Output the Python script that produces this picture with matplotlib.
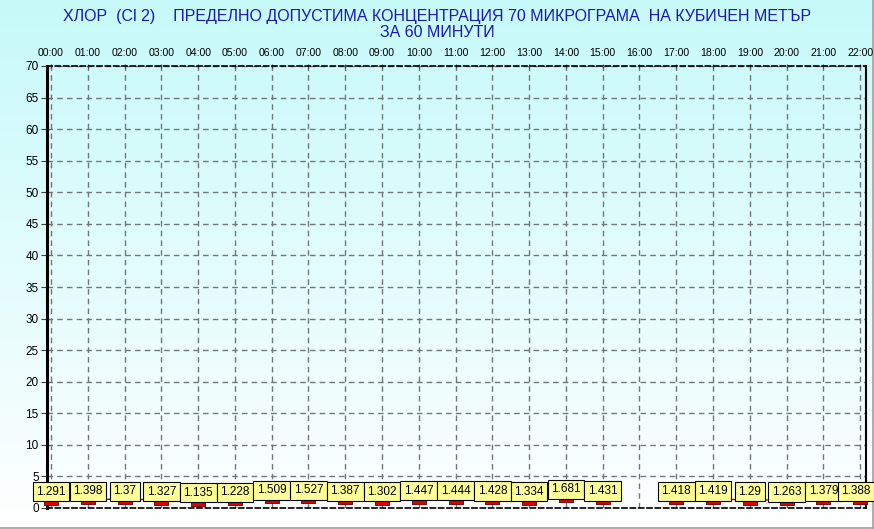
import numpy as np
import matplotlib
matplotlib.use("Agg")
import matplotlib.pyplot as plt
from matplotlib.lines import Line2D

hours = ["00:00", "01:00", "02:00", "03:00", "04:00", "05:00", "06:00", "07:00",
         "08:00", "09:00", "10:00", "11:00", "12:00", "13:00", "14:00", "15:00",
         "16:00", "17:00", "18:00", "19:00", "20:00", "21:00", "22:00"]
values = [1.291, 1.398, 1.37, 1.327, 1.135, 1.228, 1.509, 1.527, 1.387, 1.302,
          1.447, 1.444, 1.428, 1.334, 1.681, 1.431, np.nan, 1.418, 1.419, 1.29,
          1.263, 1.379, 1.388]
y_ticks = list(range(0, 75, 5))
title1 = "ХЛОР  (Cl 2)    ПРЕДЕЛНО ДОПУСТИМА КОНЦЕНТРАЦИЯ 70 МИКРОГРАМА  НА КУБИЧЕН МЕТЪР"
title2 = "ЗА 60 МИНУТИ"

plt.rcParams['font.family'] = ['Liberation Sans', 'DejaVu Sans']

W, H = 874, 529
fig = plt.figure(figsize=(W / 100, H / 100), dpi=100)

# background gradient
bg = fig.add_axes([0, 0, 1, 1], zorder=-10)
grad = np.linspace(0, 1, 256).reshape(-1, 1)
top = np.array([0.78, 0.98, 0.98])
bot = np.array([1.0, 1.0, 1.0])
img = top[None, None, :] * (1 - grad[:, :, None]) + bot[None, None, :] * grad[:, :, None]
bg.imshow(img, aspect='auto', extent=[0, 1, 0, 1], origin='upper')
bg.set_xlim(0, 1); bg.set_ylim(0, 1)
bg.axis('off')

left, right, topp, bottom = 47, 866, 66, 508
ax = fig.add_axes([left / W, 1 - bottom / H, (right - left) / W, (bottom - topp) / H])
ax.set_facecolor('none')

x = np.arange(len(hours))
ax.set_xlim(-0.11, 22.16)
ax.set_ylim(0, 70)
ax.set_xticks(x)
ax.set_xticklabels(hours, fontsize=7.6)
ax.xaxis.tick_top()
ax.set_yticks(y_ticks)
ax.set_yticklabels([str(v) for v in y_ticks], fontsize=8.5)
ax.tick_params(axis='x', length=3, direction='inout', pad=4, color='#404040')
ax.tick_params(axis='y', length=4, direction='out', pad=2, color='#404040')

ax.grid(True, color='#6e7878', linestyle=(0, (4, 3)), linewidth=1)

for s in ['top', 'bottom']:
    ax.spines[s].set_linestyle((0, (3, 2)))
    ax.spines[s].set_linewidth(1.2)
    ax.spines[s].set_color('black')
ax.spines['left'].set_linewidth(2.2)
ax.spines['right'].set_linewidth(1.5)

ax.plot(x, values, color='#cc0000', linewidth=1, zorder=3, clip_on=False)
rect = [(-1, -0.75), (1, -0.75), (1, 0.25), (-1, 0.25), (-1, -0.75)]
ax.plot(x, values, linestyle='none', marker=rect, markersize=10,
        markerfacecolor='#dd0000', markeredgecolor='#600000', markeredgewidth=0.6,
        zorder=4, clip_on=False)

last = len(values) - 1
for i, v in enumerate(values):
    if np.isnan(v):
        continue
    dx = -4 if i == last else 0
    ax.annotate(f"{v:g}", (i, v), xytext=(dx, 8), textcoords='offset pixels',
                ha='center', va='center', fontsize=8.5, zorder=5 + i,
                bbox=dict(boxstyle='square,pad=0.3', facecolor='#ffff99',
                          edgecolor='black', linewidth=0.8))

fig.text(0.5, 1 - 16 / H, title1, ha='center', va='center', fontsize=11.5,
         color='#1a1ab0')
fig.text(0.5, 1 - 32.5 / H, title2, ha='center', va='center', fontsize=11.5,
         color='#1a1ab0')

# sunken frame lines on right/bottom
fig.add_artist(Line2D([0, 872.5 / W], [1 - 527.5 / H, 1 - 527.5 / H], color='#a0a0a0', linewidth=1.2, zorder=-5))
fig.add_artist(Line2D([872.5 / W, 872.5 / W], [1 - 527.5 / H, 1], color='#a0a0a0', linewidth=1.2, zorder=-5))

fig.savefig('out.png', dpi=100)
